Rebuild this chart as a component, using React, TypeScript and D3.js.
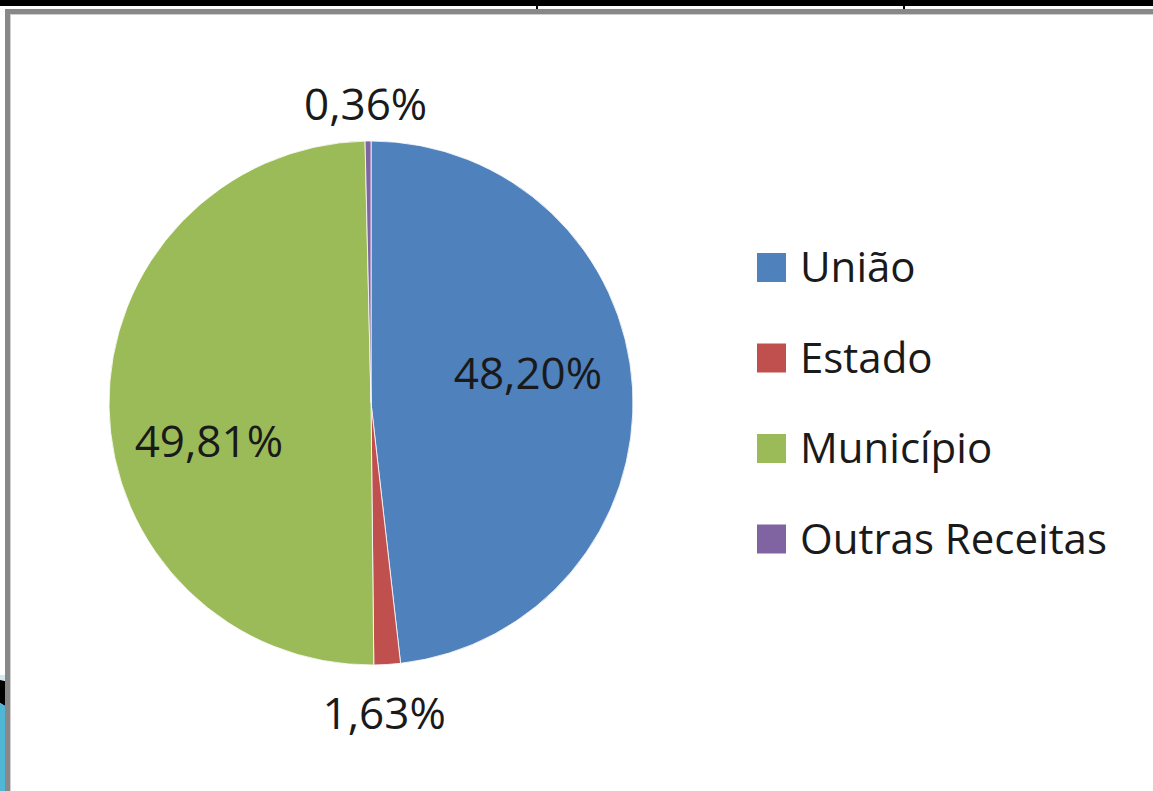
import React from "react";
import * as d3 from "d3";

const categories = ["União", "Estado", "Município", "Outras Receitas"];
const values = [48.2, 1.63, 49.81, 0.36];
const labels = ["48,20%", "1,63%", "49,81%", "0,36%"];
const colors = ["#4F81BD", "#C0504D", "#9BBB59", "#8064A2"];

const W = 1153;
const H = 791;

export default function App() {
  const cx = 371;
  const cy = 403;
  const r = 262;
  const pie = d3.pie<number>().sort(null).value((d) => d)(values);
  const arc = d3.arc<d3.PieArcDatum<number>>().innerRadius(0).outerRadius(r);
  const font = "'Open Sans', 'Noto Sans', sans-serif";

  // label placement: inside labels for large slices, outside for small ones
  const labelPos = pie.map((p, i) => {
    const mid = (p.startAngle + p.endAngle) / 2;
    const big = values[i] > 10;
    const rr = big ? r * 0.6 : r * (i === 1 ? 1.18 : 1.145);
    let x = Math.sin(mid) * rr;
    let y = -Math.cos(mid) * rr;
    if (big) {
      y += i === 0 ? -22 : 34;
      x += i === 0 ? 0 : -5;
    } else if (i === 1) {
      x -= 6;
    } else {
      x -= 2;
    }
    return [x, y];
  });

  const legendX = 757;
  const legendY = 253;
  const legendStep = 90.5;

  return (
    <svg
      width={W}
      height={H}
      style={{ position: "fixed", left: 0, top: 0, background: "#fff" }}
      fontFamily={font}
    >
      {/* page edge decorations */}
      <rect x={0} y={0} width={W} height={6} fill="#000" />
      <rect x={536} y={0} width={2} height={9} fill="#000" />
      <rect x={903} y={0} width={2} height={9} fill="#000" />
      <polygon points="0,675 5,675 5,680 0,680" fill="#d4e9f1" />
      <polygon points="0,680 5,681 5,706 0,703" fill="#000" />
      <polygon points="0,703 5,706 5,791 0,791" fill="#4fb6d6" />
      {/* frame */}
      <rect x={5} y={9} width={W - 5} height={5} fill="#888" />
      <rect x={5} y={9} width={5} height={H - 9} fill="#888" />
      <rect x={10} y={14} width={W - 10} height={1} fill="#cfcfcf" />
      <rect x={10} y={14} width={1} height={H - 14} fill="#cfcfcf" />

      <g transform={`translate(${cx},${cy})`}>
        {pie.map((p, i) => (
          <path
            key={categories[i]}
            d={arc(p) || ""}
            fill={colors[i]}
            stroke="#fff"
            strokeWidth={0.8}
          />
        ))}
        {pie.map((p, i) => (
          <text
            key={"l" + i}
            x={labelPos[i][0]}
            y={labelPos[i][1]}
            textAnchor="middle"
            dominantBaseline="central"
            fontSize={44}
            fill="#1a1a1a"
          >
            {labels[i]}
          </text>
        ))}
      </g>

      <g>
        {categories.map((c, i) => (
          <g key={c} transform={`translate(${legendX},${legendY + i * legendStep})`}>
            <rect width={29} height={29} fill={colors[i]} />
            <text x={43} y={29} fontSize={42} fill="#1a1a1a">
              {c}
            </text>
          </g>
        ))}
      </g>
    </svg>
  );
}
